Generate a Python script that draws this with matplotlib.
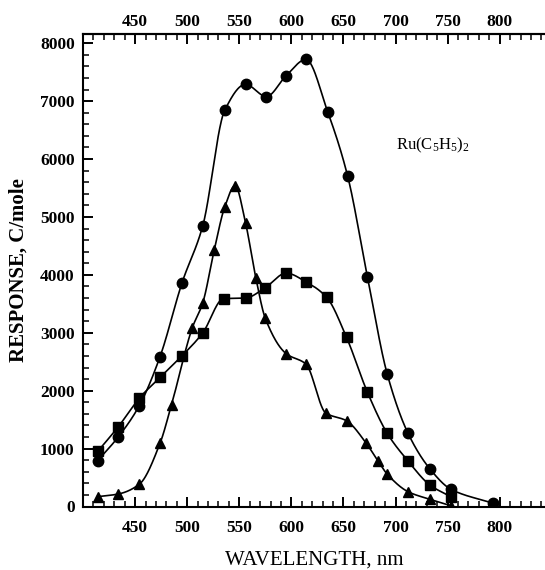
import numpy as np
import matplotlib
matplotlib.use("Agg")
import matplotlib.pyplot as plt
from matplotlib.ticker import MultipleLocator

# Data
circ_x = [414, 434, 454, 474, 495, 515, 536, 556, 576, 595, 614, 635, 654, 673, 692, 712, 733, 753, 794]
circ_y = [790, 1205, 1740, 2590, 3860, 4850, 6840, 7290, 7080, 7440, 7720, 6810, 5710, 3970, 2290, 1265, 650, 300, 55]

sq_x = [414, 434, 454, 474, 495, 515, 535, 556, 575, 595, 614, 634, 653, 673, 692, 712, 733, 753]
sq_y = [950, 1380, 1870, 2230, 2600, 3000, 3590, 3600, 3780, 4030, 3880, 3610, 2920, 1975, 1265, 786, 371, 170]

tri_x = [414, 434, 454, 474, 485, 505, 515, 526, 536, 546, 556, 566, 575, 595, 614, 633, 653, 672, 683, 692, 712, 733, 753]
tri_y = [170, 216, 383, 1095, 1760, 3090, 3520, 4430, 5170, 5540, 4900, 3940, 3250, 2640, 2460, 1615, 1480, 1090, 790, 560, 256, 124, 14]

x_ticks = [450, 500, 550, 600, 650, 700, 750, 800]
y_ticks = [0, 1000, 2000, 3000, 4000, 5000, 6000, 7000, 8000]
compound = r"Ru(C$_5$H$_5$)$_2$"

XMIN, XMAX, YMIN, YMAX = 400, 843.5, 0, 8160


def smooth(x, y, n=40):
    """Monotone piecewise cubic (PCHIP) interpolation through the points."""
    x = np.asarray(x, float)
    y = np.asarray(y, float)
    h = np.diff(x)
    d = np.diff(y) / h
    m = np.zeros_like(y)
    for k in range(1, len(x) - 1):
        if d[k - 1] * d[k] > 0:
            w1 = 2 * h[k] + h[k - 1]
            w2 = h[k] + 2 * h[k - 1]
            m[k] = (w1 + w2) / (w1 / d[k - 1] + w2 / d[k])
    m[0] = d[0]
    m[-1] = d[-1]
    xs, ys = [], []
    for k in range(len(x) - 1):
        t = np.linspace(0, 1, n, endpoint=False)
        h00 = 2 * t ** 3 - 3 * t ** 2 + 1
        h10 = t ** 3 - 2 * t ** 2 + t
        h01 = -2 * t ** 3 + 3 * t ** 2
        h11 = t ** 3 - t ** 2
        xs.append(x[k] + t * h[k])
        ys.append(h00 * y[k] + h10 * h[k] * m[k] + h01 * y[k + 1] + h11 * h[k] * m[k + 1])
    xs.append([x[-1]])
    ys.append([y[-1]])
    return np.concatenate(xs), np.concatenate(ys)


plt.rcParams['font.family'] = ['Liberation Serif', 'DejaVu Serif']
plt.rcParams['mathtext.fontset'] = 'custom'
plt.rcParams['mathtext.rm'] = 'Liberation Serif'
plt.rcParams['mathtext.it'] = 'Liberation Serif'

fig = plt.figure(figsize=(5.45, 5.70), dpi=100)
ax = fig.add_axes([83 / 545, 1 - 506.5 / 570, 1 - 83 / 545, (506.5 - 34) / 570])

lw = 1.2
for xs_, ys_, mk, ms in ((circ_x, circ_y, 'o', 7.5), (sq_x, sq_y, 's', 6.5), (tri_x, tri_y, '^', 7)):
    sx, sy = smooth(xs_, ys_)
    ax.plot(sx, sy, color='black', lw=lw, zorder=2)
    ax.plot(xs_, ys_, linestyle='none', marker=mk, markersize=ms, color='black', zorder=3)

ax.set_xlim(XMIN, XMAX)
ax.set_ylim(YMIN, YMAX)
ax.set_xticks(x_ticks)
ax.set_yticks(y_ticks)
ax.xaxis.set_minor_locator(MultipleLocator(10))
ax.yaxis.set_minor_locator(MultipleLocator(200))
ax.spines['right'].set_visible(False)
for s in ax.spines.values():
    s.set_linewidth(1.5)
ax.tick_params(axis='x', which='both', direction='in', top=False, bottom=True, pad=10)
ax.tick_params(axis='y', which='both', direction='in', right=False, pad=6)
ax.tick_params(which='major', length=7, width=1.4, labelsize=12.5)
ax.tick_params(which='minor', length=4, width=1.1)

top = ax.secondary_xaxis('top')
top.set_xticks(x_ticks)
top.xaxis.set_minor_locator(MultipleLocator(10))
top.spines['top'].set_linewidth(1.5)
top.tick_params(which='both', direction='in', pad=3)
top.tick_params(which='major', length=7, width=1.4, labelsize=12.5)
top.tick_params(which='minor', length=4, width=1.1)

for lab in ax.get_xticklabels() + ax.get_yticklabels() + top.get_xticklabels():
    lab.set_fontweight('bold')

ax.set_xlabel('WAVELENGTH, nm', fontsize=15, labelpad=10)
ax.set_ylabel('RESPONSE, C/mole', fontsize=15, fontweight='bold', labelpad=8)
fig.text(433 / 545, 1 - 145 / 570, compound, fontsize=12, ha='center', va='center')

fig.savefig('out.png', dpi=100)
